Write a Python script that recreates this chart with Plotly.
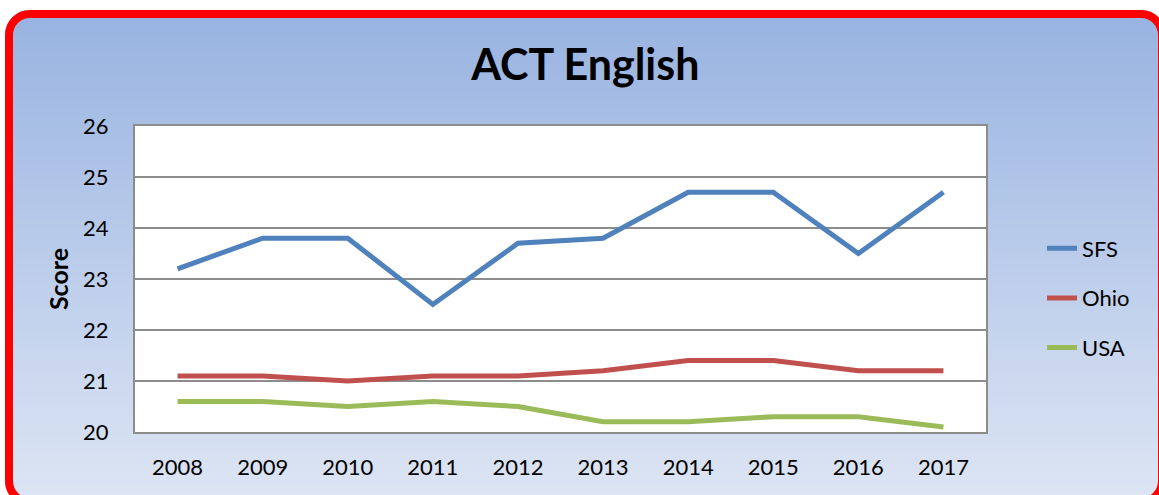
import plotly.graph_objects as go

years = ["2008", "2009", "2010", "2011", "2012", "2013", "2014", "2015", "2016", "2017"]
sfs = [23.2, 23.8, 23.8, 22.5, 23.7, 23.8, 24.7, 24.7, 23.5, 24.7]
ohio = [21.1, 21.1, 21.0, 21.1, 21.1, 21.2, 21.4, 21.4, 21.2, 21.2]
usa = [20.6, 20.6, 20.5, 20.6, 20.5, 20.2, 20.2, 20.3, 20.3, 20.1]
y_ticks = [20, 21, 22, 23, 24, 25, 26]

W, H = 1159, 495
L, R, T, B = 135, 986, 126, 432
PW, PH = R - L, B - T


def px(x):
    return (x - L) / PW


def py(y):
    return (B - y) / PH


FONT = "Lato"

fig = go.Figure()
for name, vals, col in [("SFS", sfs, "#4F81BD"), ("Ohio", ohio, "#C0504D"), ("USA", usa, "#9BBB59")]:
    fig.add_trace(go.Scatter(x=years, y=vals, name=name, mode="lines",
                             legendgroup=name,
                             line=dict(color=col, width=5)))

shapes = []
# gradient background bands
top_c = (152, 179, 225)
bot_c = (222, 230, 244)
y0, y1 = 10, 506
step = 3
y = y0
while y < y1:
    f = (y - y0) / (y1 - y0)
    c = tuple(round(top_c[i] + (bot_c[i] - top_c[i]) * f) for i in range(3))
    shapes.append(dict(type="rect", xref="paper", yref="paper", layer="below",
                       x0=px(5), x1=px(1170), y0=py(y), y1=py(min(y + step + 0.5, y1)),
                       line=dict(width=0), fillcolor="rgb(%d,%d,%d)" % c))
    y += step

# white corner masks outside rounded border
ox0, oy0, ox1, oy1 = 5, 10, 1166, 506
ro = 25
k = 0.5523


def P(x, y):
    return "%f,%f" % (px(x), py(y))


def corner(cx, cy, sx, sy):
    a = (cx, cy + sy * ro)
    b = (cx + sx * ro, cy)
    c1 = (cx, cy + sy * ro * (1 - k))
    c2 = (cx + sx * ro * (1 - k), cy)
    return "M%s L%s L%s C%s %s %s Z" % (P(cx - sx * 3, cy - sy * 3), P(cx - sx * 3, a[1]), P(*a),
                                         P(*c1), P(*c2), P(*b))


for (cx, cy, sx, sy) in [(ox0, oy0, 1, 1), (ox1, oy0, -1, 1), (ox0, oy1, 1, -1), (ox1, oy1, -1, -1)]:
    shapes.append(dict(type="path", xref="paper", yref="paper", layer="below",
                       path=corner(cx, cy, sx, sy), fillcolor="white", line=dict(width=0)))

# red rounded border (stroke center)
bw = 8
cx0, cy0, cx1, cy1 = ox0 + bw / 2, oy0 + bw / 2, ox1 - bw / 2, oy1 - bw / 2
r = ro - bw / 2
kr = r * k
path = ("M%s L%s C%s %s %s L%s C%s %s %s L%s C%s %s %s L%s C%s %s %s Z" % (
    P(cx0 + r, cy0), P(cx1 - r, cy0),
    P(cx1 - r + kr, cy0), P(cx1, cy0 + r - kr), P(cx1, cy0 + r),
    P(cx1, cy1 - r),
    P(cx1, cy1 - r + kr), P(cx1 - r + kr, cy1), P(cx1 - r, cy1),
    P(cx0 + r, cy1),
    P(cx0 + r - kr, cy1), P(cx0, cy1 - r + kr), P(cx0, cy1 - r),
    P(cx0, cy0 + r),
    P(cx0, cy0 + r - kr), P(cx0 + r - kr, cy0), P(cx0 + r, cy0)))
shapes.append(dict(type="path", xref="paper", yref="paper", layer="below",
                   path=path, line=dict(color="#FF0000", width=bw)))

# white plot area
shapes.append(dict(type="rect", xref="paper", yref="paper", layer="below",
                   x0=0, x1=1, y0=0, y1=1, fillcolor="white", line=dict(width=0)))

fig.update_layout(
    width=W, height=H,
    margin=dict(l=L, r=W - R, t=T, b=H - B, pad=0, autoexpand=False),
    paper_bgcolor="white",
    plot_bgcolor="white",
    shapes=shapes,
    font=dict(family=FONT, color="black", size=22),
    title=dict(text="<b>ACT English</b>", x=0.505, xanchor="center",
               y=1 - 65 / H, yanchor="middle", yref="container",
               font=dict(family=FONT, size=43, color="black")),
    legend=dict(x=px(1042), xanchor="left", y=py(298), yanchor="middle",
                bgcolor="rgba(0,0,0,0)", borderwidth=0,
                traceorder="grouped", tracegroupgap=18,
                font=dict(family=FONT, size=22, color="black")),
    xaxis=dict(type="category", range=[-0.5, 9.5], showgrid=False, showline=True,
               linecolor="#8C8C8C", linewidth=2, mirror=True,
               ticks="", ticklabelstandoff=15, zeroline=False,
               tickfont=dict(family=FONT, size=22)),
    yaxis=dict(range=[20, 26], tickvals=y_ticks, showgrid=True, gridcolor="#8C8C8C", gridwidth=2,
               showline=True, linecolor="#8C8C8C", linewidth=2, mirror=True,
               ticks="", ticklabelstandoff=20, zeroline=False,
               tickfont=dict(family=FONT, size=22),
               title=dict(text="<b>Score</b>", standoff=7, font=dict(family=FONT, size=25))),
)

fig.write_html("out.html", config={"displayModeBar": False},
               post_script="document.body.style.margin='0';document.body.style.overflow='hidden';")
